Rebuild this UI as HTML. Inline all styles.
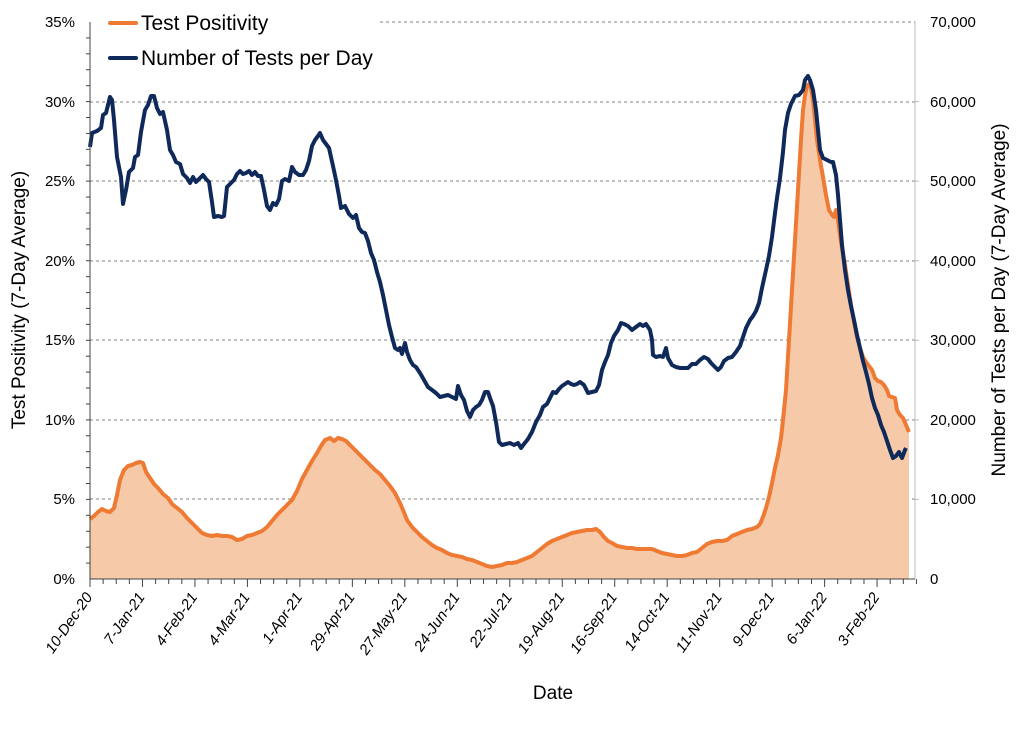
<!DOCTYPE html><html><head><style>body{margin:0;background:#fff}svg{font-family:"Liberation Sans",sans-serif}</style></head><body>
<svg width="1024" height="727" viewBox="0 0 1024 727">
<g stroke="#555" stroke-dasharray="3,3" stroke-width="0.8">
<line x1="380" y1="22" x2="915" y2="22"/><line x1="90" y1="102" x2="915" y2="102"/><line x1="90" y1="181" x2="915" y2="181"/><line x1="90" y1="261" x2="915" y2="261"/><line x1="90" y1="340" x2="915" y2="340"/><line x1="90" y1="420" x2="915" y2="420"/><line x1="90" y1="499" x2="915" y2="499"/>
</g>
<polygon fill="#f6c9a8" points="90,579 90,519 94,516 98,512 102,509 106,511 110,512 114,508 117,495 120,480 124,470 128,466 132,465 136,463 140,462 143,463 146,472 150,478 154,484 158,488 163,494 168,498 172,504 177,508 182,512 187,518 192,523 197,528 202,533 207,535 212,536 217,535 222,536 227,536 232,537 237,540 242,539 247,536 252,535 257,533 262,531 267,527 272,521 277,515 282,510 287,505 292,500 297,491 302,479 307,470 312,461 317,453 321,446 325,440 330,438 334,441 338,438 342,439 346,441 350,445 355,450 360,455 365,460 370,465 375,470 380,474 385,480 390,486 395,493 400,503 403,510 407,520 412,527 417,532 422,537 427,541 432,545 437,548 442,550 447,553 452,555 457,556 462,557 467,559 472,560 477,562 482,564 487,566 492,567 497,566 502,565 507,563 512,563 517,562 522,560 527,558 532,556 537,552 542,548 547,544 552,541 557,539 562,537 567,535 572,533 577,532 582,531 587,530 592,530 596,529 600,532 604,537 608,541 612,543 617,546 622,547 627,548 632,548 637,549 642,549 647,549 652,549 657,551 662,553 667,554 672,555 677,556 682,556 687,555 692,553 697,552 702,548 707,544 712,542 717,541 722,541 727,540 732,536 737,534 742,532 747,530 752,529 757,527 760,524 763,517 766,508 769,497 772,483 775,468 778,455 781,438 783,420 786,390 789,340 792,290 795,240 798,190 801,140 803,110 805,95 807,86 809,84 811,88 813,100 815,120 817,140 820,160 823,177 826,195 829,210 832,215 834,217 836,210 838,220 840,235 842,248 845,265 848,285 851,305 854,322 857,337 860,348 863,357 866,362 869,366 872,370 875,378 878,381 881,382 884,385 887,390 889,396 892,397 895,398 897,410 900,415 903,418 906,425 909,432 909,579"/>
<polyline fill="none" stroke="#ef7a33" stroke-width="4" stroke-linejoin="round" points="90,519 94,516 98,512 102,509 106,511 110,512 114,508 117,495 120,480 124,470 128,466 132,465 136,463 140,462 143,463 146,472 150,478 154,484 158,488 163,494 168,498 172,504 177,508 182,512 187,518 192,523 197,528 202,533 207,535 212,536 217,535 222,536 227,536 232,537 237,540 242,539 247,536 252,535 257,533 262,531 267,527 272,521 277,515 282,510 287,505 292,500 297,491 302,479 307,470 312,461 317,453 321,446 325,440 330,438 334,441 338,438 342,439 346,441 350,445 355,450 360,455 365,460 370,465 375,470 380,474 385,480 390,486 395,493 400,503 403,510 407,520 412,527 417,532 422,537 427,541 432,545 437,548 442,550 447,553 452,555 457,556 462,557 467,559 472,560 477,562 482,564 487,566 492,567 497,566 502,565 507,563 512,563 517,562 522,560 527,558 532,556 537,552 542,548 547,544 552,541 557,539 562,537 567,535 572,533 577,532 582,531 587,530 592,530 596,529 600,532 604,537 608,541 612,543 617,546 622,547 627,548 632,548 637,549 642,549 647,549 652,549 657,551 662,553 667,554 672,555 677,556 682,556 687,555 692,553 697,552 702,548 707,544 712,542 717,541 722,541 727,540 732,536 737,534 742,532 747,530 752,529 757,527 760,524 763,517 766,508 769,497 772,483 775,468 778,455 781,438 783,420 786,390 789,340 792,290 795,240 798,190 801,140 803,110 805,95 807,86 809,84 811,88 813,100 815,120 817,140 820,160 823,177 826,195 829,210 832,215 834,217 836,210 838,220 840,235 842,248 845,265 848,285 851,305 854,322 857,337 860,348 863,357 866,362 869,366 872,370 875,378 878,381 881,382 884,385 887,390 889,396 892,397 895,398 897,410 900,415 903,418 906,425 909,432"/>
<polyline fill="none" stroke="#0f2a5a" stroke-width="4" stroke-linejoin="round" points="90,147 92,133 97,131 101,128 103,115 106,113 110,97 112,100 114,120 117,157 121,177 123,204 126,190 129,172 133,168 135,157 138,155 141,132 145,110 148,105 151,96 154,96 157,108 160,114 163,112 167,130 170,150 173,155 176,162 180,164 183,174 187,178 190,183 193,177 196,182 200,178 203,175 206,179 209,182 212,202 214,217 218,216 222,217 224,216 227,187 231,183 234,180 237,174 240,171 243,174 246,173 249,171 252,175 255,172 258,176 261,176 264,190 267,206 270,210 273,203 276,205 279,199 282,181 285,179 289,181 292,167 295,172 299,175 303,175 306,170 309,161 312,146 315,140 318,136 320,133 323,140 326,144 329,148 333,166 336,180 339,196 341,208 345,206 349,214 353,218 356,215 359,228 362,232 365,233 368,241 371,253 374,260 377,272 380,282 383,295 386,310 389,325 392,337 395,348 398,350 400,348 402,354 405,343 407,352 410,360 413,365 416,367 420,373 424,380 428,387 432,390 436,393 440,397 444,396 448,395 452,397 456,399 458,386 461,395 464,400 467,411 470,417 473,410 476,407 479,405 482,400 485,392 488,392 490,398 493,406 496,422 499,442 502,445 506,444 510,443 514,445 518,443 521,448 524,444 528,439 532,432 536,422 540,415 543,407 547,404 550,398 553,392 556,393 559,389 562,386 565,384 568,382 571,384 574,385 577,384 580,382 584,385 588,393 592,392 596,391 599,385 602,370 605,362 608,355 611,343 614,336 618,330 621,323 624,324 628,326 632,330 636,327 640,324 643,326 646,324 650,330 652,340 653,355 656,357 660,356 663,357 666,348 668,358 672,365 676,367 680,368 684,368 688,368 692,364 696,364 700,360 704,357 708,359 711,363 715,367 718,370 721,367 724,361 728,358 732,357 736,352 740,346 743,337 746,328 750,320 753,316 756,311 759,303 762,288 766,270 769,256 772,237 775,213 777,198 780,178 783,152 785,130 788,113 791,104 795,96 799,95 803,90 805,80 808,76 810,80 813,90 816,110 818,130 820,150 823,158 827,160 831,162 833,162 836,175 838,195 840,220 842,245 845,270 848,290 851,306 854,320 857,335 860,348 863,361 866,372 869,384 872,398 875,408 878,415 881,425 884,432 887,441 890,450 893,458 896,456 899,452 902,458 905,450 906,448"/>
<g stroke="#444" stroke-width="1">
<line x1="90" y1="22" x2="90" y2="579"/><line x1="915" y1="22" x2="915" y2="579" stroke="#bbb"/><line x1="90" y1="579" x2="915" y2="579"/>
</g>
<g id="t" stroke="#444" stroke-width="1"></g>
<g font-size="15" fill="#000" text-anchor="end">
<text x="75" y="27">35%</text><text x="75" y="107">30%</text><text x="75" y="186">25%</text><text x="75" y="266">20%</text><text x="75" y="345">15%</text><text x="75" y="425">10%</text><text x="75" y="504">5%</text><text x="75" y="584">0%</text>
</g>
<g font-size="15" fill="#000" text-anchor="start">
<text x="930" y="27">70,000</text><text x="930" y="107">60,000</text><text x="930" y="186">50,000</text><text x="930" y="266">40,000</text><text x="930" y="345">30,000</text><text x="930" y="425">20,000</text><text x="930" y="504">10,000</text><text x="930" y="584">0</text>
</g>
<g font-size="15" fill="#000" text-anchor="end" font-style="italic" id="xl"></g>
<text transform="translate(25,300) rotate(-90)" font-size="19" text-anchor="middle">Test Positivity (7-Day Average)</text>
<text transform="translate(1005,300) rotate(-90)" font-size="19" text-anchor="middle">Number of Tests per Day (7-Day Average)</text>
<text x="553" y="699" font-size="19" text-anchor="middle">Date</text>
<line x1="110" y1="23" x2="136" y2="23" stroke="#ef7a33" stroke-width="4" stroke-linecap="round"/>
<text x="141" y="30" font-size="21">Test Positivity</text>
<line x1="110" y1="58" x2="136" y2="58" stroke="#0f2a5a" stroke-width="4" stroke-linecap="round"/>
<text x="141" y="65" font-size="21">Number of Tests per Day</text>
</svg>
<script>
var ns="http://www.w3.org/2000/svg",t=document.getElementById("t"),xl=document.getElementById("xl");
for(var i=1;i<35;i++){var y=579-i*15.914,l=document.createElementNS(ns,"line");l.setAttribute("x1",86);l.setAttribute("x2",90);l.setAttribute("y1",y);l.setAttribute("y2",y);t.appendChild(l);var r=l.cloneNode();r.setAttribute("x1",915);r.setAttribute("x2",919);r.setAttribute("stroke","#bbb");if(i%5==0)t.appendChild(r);}
for(var d=0;d<=441;d+=7){var x=90+d*1.874,l=document.createElementNS(ns,"line");l.setAttribute("x1",x);l.setAttribute("x2",x);l.setAttribute("y1",579);l.setAttribute("y2",d%28==0?587:584);t.appendChild(l);}
var labs=["10-Dec-20","7-Jan-21","4-Feb-21","4-Mar-21","1-Apr-21","29-Apr-21","27-May-21","24-Jun-21","22-Jul-21","19-Aug-21","16-Sep-21","14-Oct-21","11-Nov-21","9-Dec-21","6-Jan-22","3-Feb-22"];
labs.forEach(function(s,k){var x=90+k*28*1.874+3,tx=document.createElementNS(ns,"text");tx.setAttribute("transform","translate("+x+",597) rotate(-55)");tx.textContent=s;xl.appendChild(tx);});
</script>
</body></html>
